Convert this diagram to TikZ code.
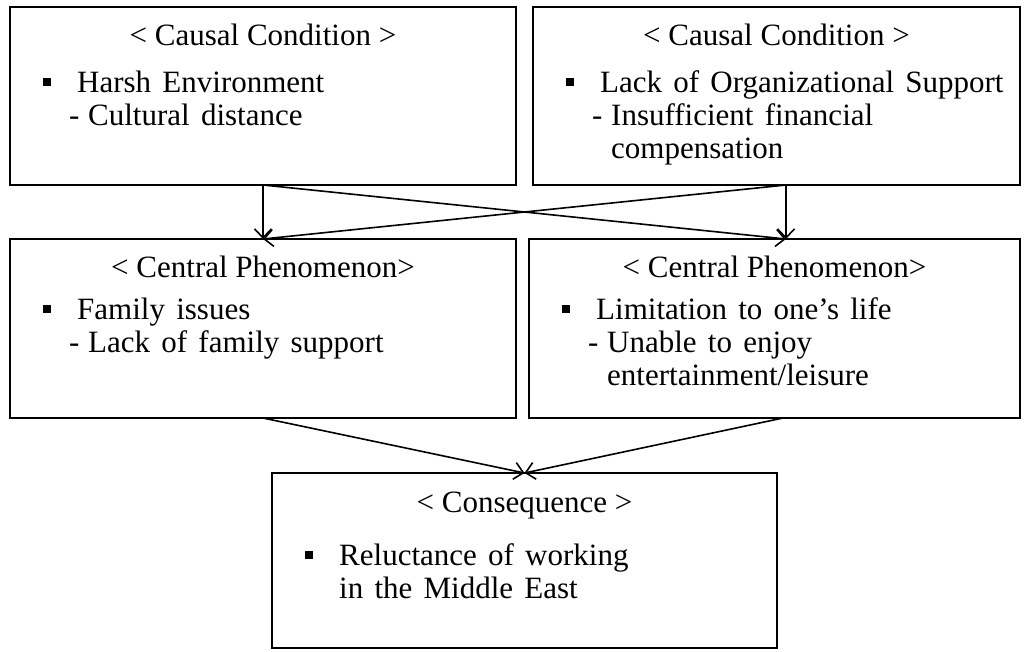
\documentclass[tikz,border=0pt]{standalone}
\usepackage{fontspec}
\setmainfont[WordSpace=1.45]{Liberation Serif}
\newfontfamily\headfont{Liberation Serif}
\usetikzlibrary{positioning, arrows.meta, calc}

\newcommand{\sq}{\hspace*{5pt}\makebox[34pt][l]{\raisebox{6pt}{\rule{8pt}{8pt}}}}
\newcommand{\dsh}{\makebox[19pt][l]{-}}

\begin{document}
\begin{tikzpicture}[
  x=1pt, y=-1pt,
  box/.style={draw, line width=1.8pt, inner sep=0pt, outer sep=0pt},
  head/.style={anchor=base, inner sep=0pt, font=\headfont\fontsize{31}{33}\selectfont},
  txt/.style={anchor=base west, inner sep=0pt, font=\fontsize{31}{33}\selectfont},
  arr/.style={-{Straight Barb[length=9pt, width=17pt]}, line width=1.6pt}
]
  \useasboundingbox (0,0) rectangle (1027,651);

  % Boxes
  \node[box, minimum width=506, minimum height=178] (cc1) at (263,96) {};
  \node[box, minimum width=487, minimum height=178] (cc2) at (776.5,96) {};
  \node[box, minimum width=506, minimum height=179] (cp1) at (263,328.5) {};
  \node[box, minimum width=491, minimum height=179] (cp2) at (774.5,328.5) {};
  \node[box, minimum width=505, minimum height=175] (con) at (524.5,560.5) {};

  % Causal conditions
  \node[head] (cc1t) at ([shift={(0,38)}]cc1.north) {< Causal Condition >};
  \node[txt] (cc1a) at ([shift={(28,85)}]cc1.north west) {\sq Harsh Environment};
  \node[txt] (cc1b) at ([shift={(59,118)}]cc1.north west) {\dsh Cultural distance};

  \node[head] (cc2t) at ([shift={(0,38)}]cc2.north) {< Causal Condition >};
  \node[txt] (cc2a) at ([shift={(28,85)}]cc2.north west) {\sq Lack of Organizational Support};
  \node[txt] (cc2b) at ([shift={(59,118)}]cc2.north west) {\dsh Insufficient financial};
  \node[txt] (cc2c) at ([shift={(78,151)}]cc2.north west) {compensation};

  % Central phenomena
  \node[head] (cp1t) at ([shift={(0,38)}]cp1.north) {< Central Phenomenon>};
  \node[txt] (cp1a) at ([shift={(28,80)}]cp1.north west) {\sq Family issues};
  \node[txt] (cp1b) at ([shift={(59,113)}]cp1.north west) {\dsh Lack of family support};

  \node[head] (cp2t) at ([shift={(0,38)}]cp2.north) {< Central Phenomenon>};
  \node[txt] (cp2a) at ([shift={(28,80)}]cp2.north west) {\sq Limitation to one's life};
  \node[txt] (cp2b) at ([shift={(59,113)}]cp2.north west) {\dsh Unable to enjoy};
  \node[txt] (cp2c) at ([shift={(78,146)}]cp2.north west) {entertainment/leisure};

  % Consequence
  \node[head] (cont) at ([shift={(0,39)}]con.north) {< Consequence >};
  \node[txt] (cona) at ([shift={(28,92)}]con.north west) {\sq Reluctance of working};
  \node[txt] (conb) at ([shift={(67,125)}]con.north west) {in the Middle East};

  % Arrow ends
  \coordinate (cc2out) at ([xshift=9.5pt]cc2.south);
  \coordinate (cp2in) at ([xshift=11.5pt]cp2.north);
  \coordinate (cp2out) at ([xshift=8.5pt]cp2.south);

  % Arrows
  \draw[arr] (cc1.south) -- (cp1.north);
  \draw[arr] (cc1.south) -- (cp2in);
  \draw[arr] (cc2out) -- (cp1.north);
  \draw[arr] (cc2out) -- (cp2in);
  \draw[arr] (cp1.south) -- (con.north);
  \draw[arr] (cp2out) -- (con.north);
\end{tikzpicture}
\end{document}
